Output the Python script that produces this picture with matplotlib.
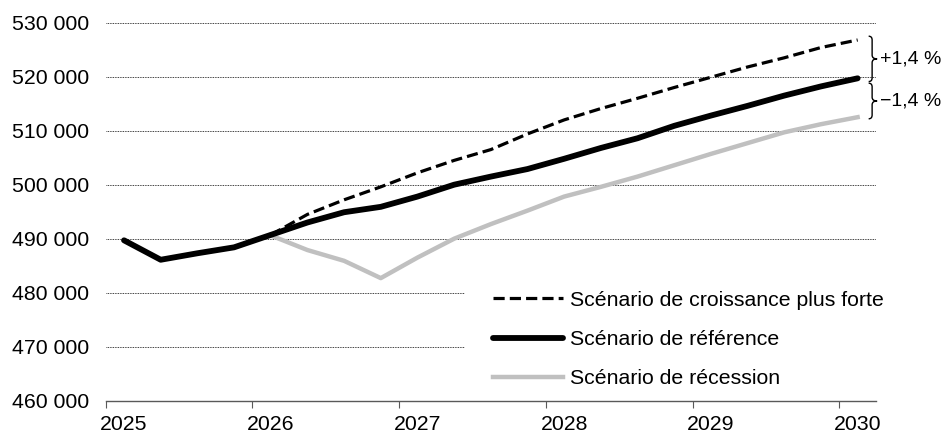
import matplotlib
matplotlib.use("Agg")
import matplotlib.pyplot as plt
import matplotlib.transforms as mtransforms
from matplotlib.path import Path
from matplotlib.patches import PathPatch, Rectangle
from matplotlib.ticker import FixedLocator, FuncFormatter, NullFormatter
import numpy as np

plt.rcParams['font.family'] = ['Liberation Sans', 'DejaVu Sans']
FS = 15.3

# Quarterly values, 2025 T1 .. 2030 T1
years = [2025, 2026, 2027, 2028, 2029, 2030]
reference = [489700, 486100, 487300, 488400, 490700, 493000, 494900, 495900,
             497800, 500000, 501500, 502900, 504800, 506800, 508600, 510900,
             512800, 514600, 516500, 518200, 519700]
# alternative scenarios start in 2026 T1
croissance = [490700, 494500, 497200, 499600, 502200, 504500, 506500, 509400,
              512000, 514100, 516000, 518000, 519900, 521800, 523500, 525400,
              526800]
recession = [490600, 487900, 485900, 482700, 486500, 490000, 492700, 495200,
             497800, 499600, 501500, 503600, 505700, 507700, 509700, 511200,
             512500]
labels = ["Scénario de croissance plus forte", "Scénario de référence",
          "Scénario de récession"]
ecarts = ["+1,4 %", "\u22121,4 %"]

x_ref = 2025 + (np.arange(len(reference)) + 0.5) / 4
x_alt = x_ref[len(reference) - len(croissance):]

fig = plt.figure(figsize=(9.47, 4.33), dpi=100)
ax = fig.add_axes([0.1116, 0.0746, 0.8134, 0.873])

ax.plot(x_alt, croissance, color='black', lw=2.3, linestyle=(0, (3.5, 1.6)),
        label=labels[0], zorder=3)
ax.plot(x_ref, reference, color='black', lw=4.2, solid_capstyle='round',
        solid_joinstyle='round', label=labels[1], zorder=4)
ax.plot(x_alt, recession, color='#c0c0c0', lw=3.2, solid_joinstyle='round',
        label=labels[2], zorder=3)

ax.set_xlim(2025, 2030.25)
ax.set_ylim(460000, 530000)

# axes styling
for s in ['left', 'top', 'right']:
    ax.spines[s].set_visible(False)
ax.spines['bottom'].set_color('#595959')
ax.spines['bottom'].set_linewidth(1)

ax.xaxis.set_major_locator(FixedLocator(years))
ax.xaxis.set_major_formatter(NullFormatter())
ax.xaxis.set_minor_locator(FixedLocator([y + 0.125 for y in years]))
ax.xaxis.set_minor_formatter(FuncFormatter(lambda v, p: f"{int(v)}"))
ax.tick_params(axis='x', which='major', length=5, color='#595959', direction='out')
ax.tick_params(axis='x', which='minor', length=0, pad=10, labelsize=FS)

ax.set_yticks(range(460000, 530001, 10000))
ax.yaxis.set_major_formatter(FuncFormatter(lambda v, p: f"{v:,.0f}".replace(",", " ")))
ax.tick_params(axis='y', length=0, pad=12, labelsize=FS)

ax.set_axisbelow(True)
ax.yaxis.grid(True, color='black', lw=0.6, linestyle=(0, (1, 1)))
ax.get_ygridlines()[0].set_visible(False)

# white area behind the legend
ax.add_patch(Rectangle((0.466, 0.004), 0.6, 0.345, transform=ax.transAxes,
                       facecolor='white', edgecolor='none', zorder=1, clip_on=False))
ax.legend(loc='upper left', bbox_to_anchor=(0.503, 0.291), frameon=False,
          handlelength=3.3, handletextpad=0.33, labelspacing=0.96,
          borderpad=0, borderaxespad=0, fontsize=FS)


def brace(y_top, y_bot, text):
    tr = mtransforms.blended_transform_factory(ax.transAxes, ax.transData)
    xl, xm, xr = 0.9905, 0.9950, 1.0015
    r = 700
    ym = (y_top + y_bot) / 2
    verts = [(xl, y_top), (xm, y_top), (xm, y_top - r),
             (xm, ym + r), (xm, ym), (xr, ym),
             (xm, ym), (xm, ym - r),
             (xm, y_bot + r), (xm, y_bot), (xl, y_bot)]
    codes = [Path.MOVETO, Path.CURVE3, Path.CURVE3,
             Path.LINETO, Path.CURVE3, Path.CURVE3,
             Path.CURVE3, Path.CURVE3,
             Path.LINETO, Path.CURVE3, Path.CURVE3]
    ax.add_patch(PathPatch(Path(verts, codes), transform=tr, facecolor='none',
                           edgecolor='black', lw=1, clip_on=False))
    ax.text(1.005, ym, text, transform=tr, ha='left', va='center', fontsize=14)


brace(croissance[-1] + 700, reference[-1] - 600, ecarts[0])
brace(reference[-1] - 900, recession[-1] - 300, ecarts[1])

fig.savefig("out.png", dpi=100)
